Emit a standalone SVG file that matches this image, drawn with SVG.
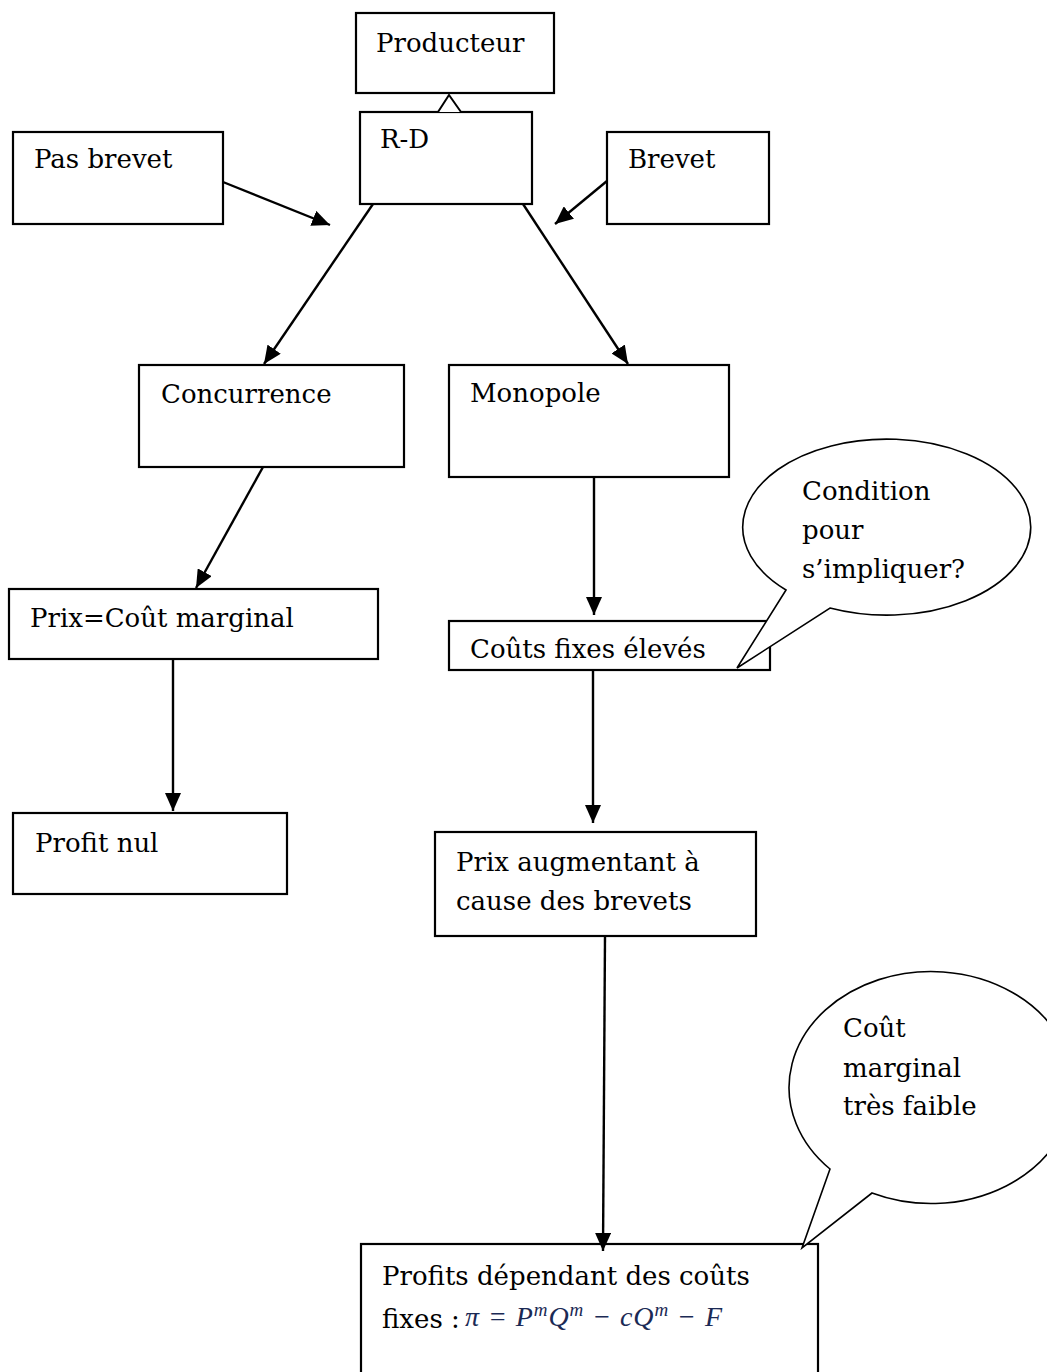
<svg xmlns="http://www.w3.org/2000/svg" width="1047" height="1372" viewBox="0 0 1047 1372">
<defs>
<marker id="ah" viewBox="0 0 18 16" refX="18" refY="8" markerWidth="18" markerHeight="16" markerUnits="userSpaceOnUse" orient="auto">
<path d="M0,0 L18,8 L0,16 Z" fill="#000"/>
</marker>
<style>
.box{fill:#fff;stroke:#000;stroke-width:2.2}
.bub{fill:#fff;stroke:#000;stroke-width:1.6}
.t{font-family:"DejaVu Serif","Liberation Serif",serif;font-size:26px;fill:#000}
.c{stroke:#000;stroke-width:2.4;fill:none;marker-end:url(#ah)}
.m{font-family:"Liberation Serif","DejaVu Serif",serif;font-style:italic;font-size:28px;fill:#1b2a55}
</style>
</defs>
<rect width="1047" height="1372" fill="#fff"/>
<g id="producteur"><rect class="box" x="356" y="13" width="198" height="80"/><text class="t" x="376" y="52">Producteur</text></g>
<g id="rd"><rect class="box" x="360" y="112" width="172" height="92"/><text class="t" x="380" y="148">R-D</text></g>
<g id="pasbrevet"><rect class="box" x="13" y="132" width="210" height="92"/><text class="t" x="34" y="168">Pas brevet</text></g>
<g id="brevet"><rect class="box" x="607" y="132" width="162" height="92"/><text class="t" x="628" y="168">Brevet</text></g>
<g id="concurrence"><rect class="box" x="139" y="365" width="265" height="102"/><text class="t" x="161" y="403">Concurrence</text></g>
<g id="monopole"><rect class="box" x="449" y="365" width="280" height="112"/><text class="t" x="470" y="402">Monopole</text></g>
<g id="prixcm"><rect class="box" x="9" y="589" width="369" height="70"/><text class="t" x="30" y="627">Prix=Coût marginal</text></g>
<g id="profitnul"><rect class="box" x="13" y="813" width="274" height="81"/><text class="t" x="35" y="852">Profit nul</text></g>
<g id="coutsfixes"><rect class="box" x="449" y="621" width="321" height="49"/><text class="t" x="470" y="658">Coûts fixes élevés</text></g>
<g id="prixaug"><rect class="box" x="435" y="832" width="321" height="104"/><text class="t" x="456" y="871">Prix augmentant à</text><text class="t" x="456" y="910">cause des brevets</text></g>
<g id="profits"><rect class="box" x="361" y="1244" width="457" height="140"/><text class="t" x="382" y="1285">Profits dépendant des coûts</text><text class="t" x="382" y="1328">fixes :</text><text class="m" x="465" y="1326" textLength="257" lengthAdjust="spacing">π = P<tspan dy="-10" font-size="19">m</tspan><tspan dy="10">Q</tspan><tspan dy="-10" font-size="19">m</tspan><tspan dy="10"> − cQ</tspan><tspan dy="-10" font-size="19">m</tspan><tspan dy="10"> − F</tspan></text></g>
<g id="connectors">
<polyline points="438,112 449,95 461,112" fill="#fff" stroke="#000" stroke-width="2"/>
<line class="c" x1="223" y1="182" x2="330" y2="225"/>
<line class="c" x1="607" y1="181" x2="555" y2="224"/>
<line class="c" x1="373" y1="204" x2="264" y2="364"/>
<line class="c" x1="523" y1="204" x2="628" y2="364"/>
<line class="c" x1="263" y1="467" x2="196" y2="588"/>
<line class="c" x1="173" y1="659" x2="173" y2="811"/>
<line class="c" x1="594" y1="477" x2="594" y2="615"/>
<line class="c" x1="593" y1="670" x2="593" y2="823"/>
<line class="c" x1="605" y1="936" x2="603" y2="1251"/>
</g>
<g id="bubble1"><path class="bub" d="M786,590 L737,668 L830,608 A144,88 0 1,0 786,590 Z"/><text class="t" x="802" y="500">Condition</text><text class="t" x="802" y="539">pour</text><text class="t" x="802" y="578">s’impliquer?</text></g>
<g id="bubble2"><path class="bub" d="M830,1169 L802,1248 L872,1193 A142,116 0 1,0 830,1169 Z"/><text class="t" x="843" y="1037">Coût</text><text class="t" x="843" y="1077">marginal</text><text class="t" x="843" y="1115">très faible</text></g>
</svg>
